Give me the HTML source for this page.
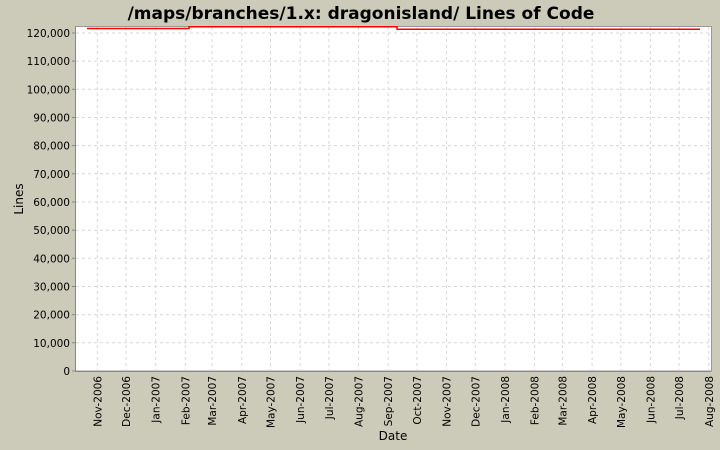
<!DOCTYPE html>
<html><head><meta charset="utf-8"><style>
html,body{margin:0;padding:0;background:#cccbb9;}
svg{display:block;font-family:"DejaVu Sans","Liberation Sans",sans-serif;}
</style></head><body>
<svg width="720" height="450" viewBox="0 0 720 450">
<rect width="720" height="450" fill="#cccbb9"/>
<text x="361" y="19" text-anchor="middle" font-size="17" font-weight="bold" fill="#000">/maps/branches/1.x: dragonisland/ Lines of Code</text>
<rect x="75.5" y="26.5" width="636" height="344.5" fill="#fff" stroke="#999" stroke-width="1"/>
<g stroke="#d8d8d8" stroke-width="1" stroke-dasharray="3,3">
<line x1="76" x2="711" y1="342.8" y2="342.8"/><line x1="76" x2="711" y1="314.7" y2="314.7"/>
<line x1="76" x2="711" y1="286.5" y2="286.5"/><line x1="76" x2="711" y1="258.3" y2="258.3"/>
<line x1="76" x2="711" y1="230.2" y2="230.2"/><line x1="76" x2="711" y1="202" y2="202"/>
<line x1="76" x2="711" y1="173.8" y2="173.8"/><line x1="76" x2="711" y1="145.6" y2="145.6"/>
<line x1="76" x2="711" y1="117.5" y2="117.5"/><line x1="76" x2="711" y1="89.3" y2="89.3"/>
<line x1="76" x2="711" y1="61.1" y2="61.1"/><line x1="76" x2="711" y1="33" y2="33"/>
<line y1="27" y2="371" x1="97.3" x2="97.3"/><line y1="27" y2="371" x1="126" x2="126"/>
<line y1="27" y2="371" x1="155.7" x2="155.7"/><line y1="27" y2="371" x1="185.3" x2="185.3"/>
<line y1="27" y2="371" x1="212.1" x2="212.1"/><line y1="27" y2="371" x1="241.8" x2="241.8"/>
<line y1="27" y2="371" x1="270.5" x2="270.5"/><line y1="27" y2="371" x1="300.2" x2="300.2"/>
<line y1="27" y2="371" x1="328.9" x2="328.9"/><line y1="27" y2="371" x1="358.6" x2="358.6"/>
<line y1="27" y2="371" x1="388.2" x2="388.2"/><line y1="27" y2="371" x1="416.9" x2="416.9"/>
<line y1="27" y2="371" x1="446.6" x2="446.6"/><line y1="27" y2="371" x1="475.3" x2="475.3"/>
<line y1="27" y2="371" x1="505" x2="505"/><line y1="27" y2="371" x1="534.6" x2="534.6"/>
<line y1="27" y2="371" x1="562.4" x2="562.4"/><line y1="27" y2="371" x1="592.1" x2="592.1"/>
<line y1="27" y2="371" x1="620.8" x2="620.8"/><line y1="27" y2="371" x1="650.4" x2="650.4"/>
<line y1="27" y2="371" x1="679.2" x2="679.2"/><line y1="27" y2="371" x1="708.8" x2="708.8"/>
</g>
<line x1="75.5" y1="26" x2="75.5" y2="371.5" stroke="#888"/>
<line x1="75" y1="371.5" x2="711" y2="371.5" stroke="#888"/>
<polyline points="87,28.5 189,28.5 189,26.7 397,26.7 397,29.3 700,29.3" fill="none" stroke="#f00" stroke-width="1.5"/>
<g font-size="10.5" fill="#000" text-anchor="end">
<text x="70" y="375">0</text><text x="70" y="346.8">10,000</text><text x="70" y="318.7">20,000</text>
<text x="70" y="290.5">30,000</text><text x="70" y="262.3">40,000</text><text x="70" y="234.2">50,000</text>
<text x="70" y="206">60,000</text><text x="70" y="177.8">70,000</text><text x="70" y="149.6">80,000</text>
<text x="70" y="121.5">90,000</text><text x="70" y="93.3">100,000</text><text x="70" y="65.1">110,000</text>
<text x="70" y="37">120,000</text>
</g>
<g stroke="#888"><line x1="72" x2="75" y1="371" y2="371"/><line x1="72" x2="75" y1="342.8" y2="342.8"/><line x1="72" x2="75" y1="314.7" y2="314.7"/><line x1="72" x2="75" y1="286.5" y2="286.5"/><line x1="72" x2="75" y1="258.3" y2="258.3"/><line x1="72" x2="75" y1="230.2" y2="230.2"/><line x1="72" x2="75" y1="202" y2="202"/><line x1="72" x2="75" y1="173.8" y2="173.8"/><line x1="72" x2="75" y1="145.6" y2="145.6"/><line x1="72" x2="75" y1="117.5" y2="117.5"/><line x1="72" x2="75" y1="89.3" y2="89.3"/><line x1="72" x2="75" y1="61.1" y2="61.1"/><line x1="72" x2="75" y1="33" y2="33"/></g>
<g font-size="10.5" fill="#000" text-anchor="end">
<text transform="translate(101.3,376) rotate(-90)">Nov-2006</text>
<text transform="translate(130,376) rotate(-90)">Dec-2006</text>
<text transform="translate(159.7,376) rotate(-90)">Jan-2007</text>
<text transform="translate(189.3,376) rotate(-90)">Feb-2007</text>
<text transform="translate(216.1,376) rotate(-90)">Mar-2007</text>
<text transform="translate(245.8,376) rotate(-90)">Apr-2007</text>
<text transform="translate(274.5,376) rotate(-90)">May-2007</text>
<text transform="translate(304.2,376) rotate(-90)">Jun-2007</text>
<text transform="translate(332.9,376) rotate(-90)">Jul-2007</text>
<text transform="translate(362.6,376) rotate(-90)">Aug-2007</text>
<text transform="translate(392.2,376) rotate(-90)">Sep-2007</text>
<text transform="translate(420.9,376) rotate(-90)">Oct-2007</text>
<text transform="translate(450.6,376) rotate(-90)">Nov-2007</text>
<text transform="translate(479.3,376) rotate(-90)">Dec-2007</text>
<text transform="translate(509,376) rotate(-90)">Jan-2008</text>
<text transform="translate(538.6,376) rotate(-90)">Feb-2008</text>
<text transform="translate(566.4,376) rotate(-90)">Mar-2008</text>
<text transform="translate(596.1,376) rotate(-90)">Apr-2008</text>
<text transform="translate(624.8,376) rotate(-90)">May-2008</text>
<text transform="translate(654.4,376) rotate(-90)">Jun-2008</text>
<text transform="translate(683.2,376) rotate(-90)">Jul-2008</text>
<text transform="translate(712.8,376) rotate(-90)">Aug-2008</text>
</g>
<text x="393" y="440" font-size="12" text-anchor="middle" fill="#000">Date</text>
<text transform="translate(23,199) rotate(-90)" font-size="12" text-anchor="middle" fill="#000">Lines</text>
</svg>
</body></html>
